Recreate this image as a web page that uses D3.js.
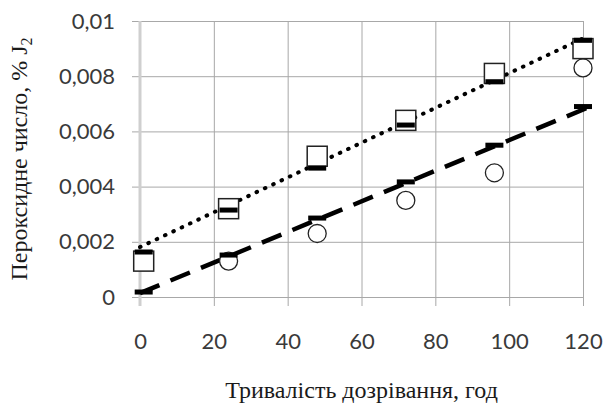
<!DOCTYPE html>
<html lang="uk">
<head>
<meta charset="UTF-8">
<script src="https://d3js.org/d3.v7.min.js" charset="utf-8"></script>
<title>Пероксидне число</title>
<style>
  body { margin: 0; background: #fff; }
  .tick text { font-family: Lato, "Open Sans", sans-serif; font-size: 22px; fill: #3a3a3a; }
  .title { font-family: "Liberation Serif", "DejaVu Serif", serif; font-size: 24px; fill: #1a1a1a; }
</style>
</head>
<body>
<div id="chart"></div>
<script>
// дані, зчитані з рисунку
const hours = [1, 24, 48, 72, 96, 120];
const squares = [0.0013, 0.0032, 0.0051, 0.0064, 0.0081, 0.0090];
const circles = [0.0013, 0.0013, 0.0023, 0.0035, 0.0045, 0.0083];
const squaresFit = [0.00163, 0.00315, 0.00467, 0.00623, 0.0078, 0.0093];
const circlesFit = [0.00018, 0.00152, 0.00286, 0.00417, 0.0055, 0.0069];
// лінії тренду: [x, y]
const dottedTrend = [[0, 0.00181], [120, 0.00937]];
const dashedTrend = [[0, 0.00014], [122, 0.0069]];
const xTicks = [0, 20, 40, 60, 80, 100, 120];
const yTicks = [0, 0.002, 0.004, 0.006, 0.008, 0.01];
const yTickLabels = ["0", "0,002", "0,004", "0,006", "0,008", "0,01"];

const width = 604, height = 403;
const x = d3.scaleLinear().domain([0, 120]).range([140, 583]);
const y = d3.scaleLinear().domain([0, 0.01]).range([297, 21]);

const svg = d3.select("#chart").append("svg")
  .attr("width", width)
  .attr("height", height);

// сітка
svg.append("g")
  .attr("transform", "translate(0,297)")
  .call(d3.axisBottom(x).tickValues(xTicks).tickSize(-276).tickSizeOuter(0).tickPadding(0).tickFormat(""))
  .call(g => g.select(".domain").remove())
  .call(g => g.selectAll(".tick line").attr("stroke", "#a8a8a8").attr("y2", 9)
    .attr("y1", -276));

svg.append("g")
  .attr("transform", "translate(583,0)")
  .call(d3.axisLeft(y).tickValues(yTicks).tickSize(451).tickSizeOuter(0).tickFormat(""))
  .call(g => g.select(".domain").remove())
  .call(g => g.selectAll(".tick line").attr("stroke", "#a8a8a8"));

// вісь Y (світла)
svg.append("line")
  .attr("x1", x(0)).attr("x2", x(0))
  .attr("y1", y(0.01)).attr("y2", 306)
  .attr("stroke", "#cfcfcf").attr("stroke-width", 3);

// підписи поділок
svg.append("g")
  .attr("transform", "translate(115,0)")
  .call(d3.axisLeft(y).tickValues(yTicks).tickSize(0).tickPadding(0)
    .tickFormat((d, i) => yTickLabels[i]))
  .call(g => g.select(".domain").remove());

svg.append("g")
  .attr("transform", "translate(0,333)")
  .call(d3.axisBottom(x).tickValues(xTicks).tickSize(0).tickPadding(0))
  .call(g => g.select(".domain").remove());

// лінії тренду
const line = d3.line().x(d => x(d[0])).y(d => y(d[1]));
svg.append("path")
  .attr("d", line(dottedTrend))
  .attr("fill", "none").attr("stroke", "#000")
  .attr("stroke-width", 4).attr("stroke-linecap", "round")
  .attr("stroke-dasharray", "0.6,8.6");
svg.append("path")
  .attr("d", line(dashedTrend))
  .attr("fill", "none").attr("stroke", "#000")
  .attr("stroke-width", 4.5).attr("stroke-dasharray", "21,12");

// кола
svg.append("g").selectAll("circle")
  .data(hours)
  .join("circle")
  .attr("cx", (d, i) => x(d))
  .attr("cy", (d, i) => y(circles[i]))
  .attr("r", 9)
  .attr("fill", "#fff").attr("stroke", "#222").attr("stroke-width", 1.3);

// квадрати
svg.append("g").selectAll("rect")
  .data(hours)
  .join("rect")
  .attr("x", d => x(d) - 10)
  .attr("y", (d, i) => y(squares[i]) - 10)
  .attr("width", 20).attr("height", 20)
  .attr("fill", "#fff").attr("stroke", "#222").attr("stroke-width", 1.5);

// маркери-риски
const dashMarks = hours.map((h, i) => [h, squaresFit[i]])
  .concat(hours.map((h, i) => [h, circlesFit[i]]));
svg.append("g").selectAll("rect")
  .data(dashMarks)
  .join("rect")
  .attr("x", d => x(d[0]) - 9)
  .attr("y", d => y(d[1]) - 2.5)
  .attr("width", 18).attr("height", 5)
  .attr("fill", "#000");

// назви осей
svg.append("text")
  .attr("class", "title")
  .attr("x", (x(0) + x(120)) / 2)
  .attr("y", 398)
  .attr("text-anchor", "middle")
  .text("Тривалість дозрівання, год");

const yt = svg.append("text")
  .attr("class", "title")
  .attr("transform", "translate(27," + ((y(0) + y(0.01)) / 2) + ") rotate(-90)")
  .attr("text-anchor", "middle");
yt.append("tspan").text("Пероксидне число, % J");
yt.append("tspan").attr("font-size", 16).attr("dy", 5).text("2");
</script>
</body>
</html>
